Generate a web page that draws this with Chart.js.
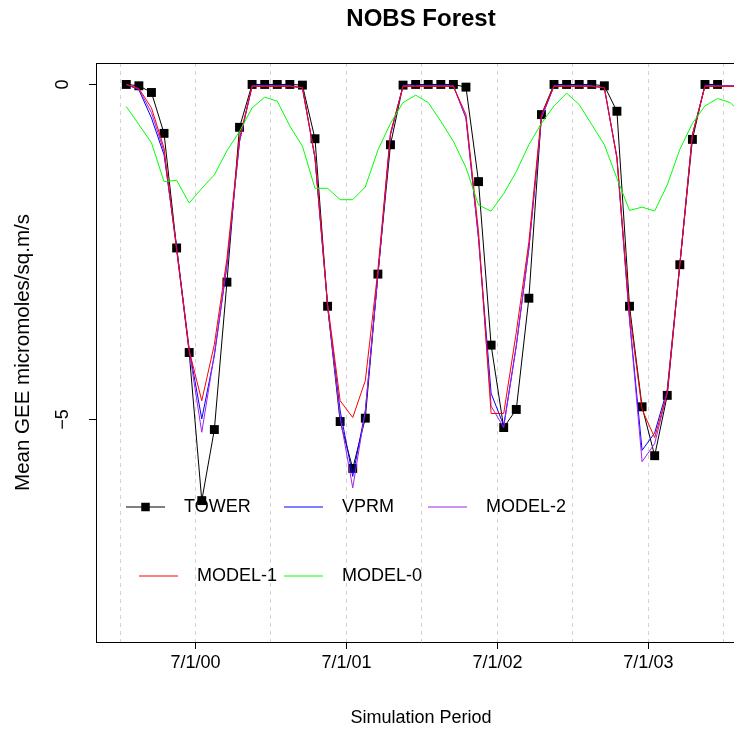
<!DOCTYPE html>
<html>
<head>
<meta charset="utf-8">
<title>NOBS Forest</title>
<script src="https://cdn.jsdelivr.net/npm/chart.js@4.4.1/dist/chart.umd.min.js"></script>
<style>
  html, body { margin: 0; padding: 0; background: #fff; overflow: hidden; }
  canvas { display: block; }
</style>
</head>
<body>
<canvas id="chart" width="760" height="732"></canvas>
<script>
// monthly mean GEE, one value per month (plotted mid-month)
const months = [
  '2000-01', '2000-02', '2000-03', '2000-04', '2000-05', '2000-06', '2000-07', '2000-08', '2000-09', '2000-10', '2000-11', '2000-12',
  '2001-01', '2001-02', '2001-03', '2001-04', '2001-05', '2001-06', '2001-07', '2001-08', '2001-09', '2001-10', '2001-11', '2001-12',
  '2002-01', '2002-02', '2002-03', '2002-04', '2002-05', '2002-06', '2002-07', '2002-08', '2002-09', '2002-10', '2002-11', '2002-12',
  '2003-01', '2003-02', '2003-03', '2003-04', '2003-05', '2003-06', '2003-07', '2003-08', '2003-09', '2003-10', '2003-11', '2003-12',
  '2004-01', '2004-02'
];

const tower = [
  0, -0.02, -0.12, -0.73, -2.44, -4.0, -6.21, -5.15, -2.95, -0.64, 0, 0,
  0, 0, -0.01, -0.81, -3.31, -5.03, -5.73, -4.98, -2.83, -0.9, -0.01, 0,
  0, 0, 0, -0.04, -1.45, -3.89, -5.12, -4.85, -3.19, -0.45, 0, 0,
  0, 0, -0.02, -0.4, -3.31, -4.81, -5.54, -4.64, -2.69, -0.82, 0, 0
];

const vprm = [
  0, -0.08, -0.5, -1.05, -2.42, -3.95, -4.99, -4.05, -2.7, -0.85, -0.02, -0.02,
  -0.02, -0.02, -0.05, -1.1, -3.3, -4.87, -5.85, -4.87, -2.85, -0.75, -0.02, -0.02,
  -0.02, -0.02, -0.02, -0.5, -2.3, -4.61, -5.09, -3.9, -2.45, -0.5, -0.02, -0.02,
  -0.02, -0.02, -0.05, -1.1, -3.5, -5.46, -5.2, -4.55, -2.69, -0.75, -0.02, -0.02,
  -0.02, -0.02
];

const model2 = [
  0, -0.07, -0.42, -1.0, -2.45, -3.97, -5.19, -4.02, -2.7, -0.85, -0.02, -0.02,
  -0.02, -0.02, -0.05, -1.1, -3.3, -4.97, -6.02, -4.87, -2.85, -0.75, -0.02, -0.02,
  -0.02, -0.02, -0.02, -0.5, -2.3, -4.8, -5.12, -3.9, -2.45, -0.5, -0.02, -0.02,
  -0.02, -0.02, -0.05, -1.1, -3.5, -5.63, -5.36, -4.6, -2.69, -0.75, -0.02, -0.02,
  -0.02, -0.02
];

const model1 = [
  0, -0.06, -0.35, -0.95, -2.47, -3.97, -4.72, -3.88, -2.6, -0.8, -0.03, -0.03,
  -0.03, -0.03, -0.05, -1.08, -3.27, -4.72, -4.97, -4.42, -2.77, -0.72, -0.03, -0.03,
  -0.03, -0.03, -0.03, -0.45, -2.2, -4.91, -4.91, -3.7, -2.35, -0.45, -0.03, -0.03,
  -0.03, -0.03, -0.05, -1.08, -3.4, -4.85, -5.27, -4.6, -2.69, -0.75, -0.03, -0.03,
  -0.03, -0.03
];

const model0 = [
  -0.33, -0.6, -0.87, -1.45, -1.43, -1.77, -1.55, -1.35, -0.99, -0.7, -0.35, -0.19,
  -0.25, -0.62, -0.92, -1.55, -1.55, -1.72, -1.72, -1.53, -0.98, -0.58, -0.27, -0.16,
  -0.27, -0.55, -0.85, -1.24, -1.8, -1.89, -1.63, -1.3, -0.9, -0.58, -0.32, -0.13,
  -0.3, -0.6, -0.9, -1.4, -1.88, -1.83, -1.89, -1.5, -0.97, -0.58, -0.32, -0.21,
  -0.27, -0.45
];

// axis text
const xTickLabels = ['7/1/00', '7/1/01', '7/1/02', '7/1/03'];
const gridDates = ['1/1/00', '7/1/00', '1/1/01', '7/1/01', '1/1/02', '7/1/02', '1/1/03', '7/1/03', '1/1/04'];
const yTicks = [0, -5];

const FONT = "'Liberation Sans', Arial, Helvetica, sans-serif";

// x is measured in months from 1 Jan 2000
function monthPos(m) {
  const [y, mo] = m.split('-').map(Number);
  return (y - 2000) * 12 + (mo - 1) + 0.5;
}

function datePos(d) {
  const [m, day, yy] = d.split('/').map(Number);
  return yy * 12 + (m - 1) + (day - 1) / 31;
}

function toPoints(values) {
  return values.map((v, i) => ({ x: monthPos(months[i]), y: v }));
}

const tickPos = {};
xTickLabels.forEach(l => { tickPos[datePos(l)] = l; });

function frameAndLegend() {
  return {
    id: 'frameAndLegend',
    afterDraw(chart, args, opts) {
      const ctx = chart.ctx;
      const a = chart.chartArea;
      const yScale = chart.scales.y;

      ctx.save();
      // box: top and right sides (left / bottom come from the axes)
      ctx.strokeStyle = '#000';
      ctx.lineWidth = 1;
      ctx.beginPath();
      ctx.moveTo(a.left, a.top + 0.5);
      ctx.lineTo(a.right, a.top + 0.5);
      ctx.lineTo(a.right, a.bottom);
      ctx.stroke();

      // y tick labels, parallel to the axis like R
      ctx.fillStyle = '#000';
      ctx.font = opts.fontSize + 'px ' + FONT;
      ctx.textAlign = 'center';
      ctx.textBaseline = 'middle';
      yTicks.forEach(v => {
        const py = yScale.getPixelForValue(v);
        const txt = v < 0 ? '\u2212' + Math.abs(v) : String(v);
        ctx.save();
        ctx.translate(a.left - opts.yLabelGap, py);
        ctx.rotate(-Math.PI / 2);
        ctx.fillText(txt, 0, 0);
        ctx.restore();
      });

      // legend, no box
      const sets = chart.data.datasets;
      opts.slots.forEach((slot, k) => {
        const ds = sets[k];
        const y = a.top + opts.rows[slot.row];
        const x0 = a.left + slot.x;
        ctx.strokeStyle = ds.borderColor;
        ctx.lineWidth = 1;
        ctx.beginPath();
        ctx.moveTo(x0, y);
        ctx.lineTo(x0 + opts.lineLen, y);
        ctx.stroke();
        if (ds.pointRadius > 0) {
          const s = opts.markSize;
          ctx.fillStyle = ds.pointBackgroundColor;
          ctx.fillRect(x0 + opts.lineLen / 2 - s / 2, y - s / 2, s, s);
        }
        ctx.fillStyle = '#000';
        ctx.textAlign = 'left';
        ctx.fillText(ds.label, x0 + opts.lineLen + opts.textGap, y);
      });
      ctx.restore();
    }
  };
}

const lineBase = {
  type: 'line',
  borderWidth: 1,
  pointRadius: 0,
  tension: 0,
  fill: false
};

new Chart(document.getElementById('chart'), {
  type: 'line',
  data: {
    datasets: [
      { ...lineBase, label: 'TOWER', data: toPoints(tower), borderColor: '#000000',
        pointRadius: 6.3, pointStyle: 'rect', pointBackgroundColor: '#000000', pointBorderWidth: 0, order: 5 },
      { ...lineBase, label: 'VPRM', data: toPoints(vprm), borderColor: '#0000ff', order: 4 },
      { ...lineBase, label: 'MODEL-2', data: toPoints(model2), borderColor: '#a020f0', order: 3 },
      { ...lineBase, label: 'MODEL-1', data: toPoints(model1), borderColor: '#ff0000', order: 2 },
      { ...lineBase, label: 'MODEL-0', data: toPoints(model0), borderColor: '#00ff00', order: 1 }
    ]
  },
  options: {
    responsive: false,
    animation: false,
    events: [],
    layout: { padding: { right: 14 } },
    scales: {
      x: {
        type: 'linear',
        min: -1.908,
        max: 49.76,
        afterBuildTicks: scale => {
          scale.ticks = gridDates.map(d => ({ value: datePos(d) }));
        },
        afterFit: scale => { scale.height = 90; },
        grid: {
          color: '#d3d3d3',
          lineWidth: 1,
          drawTicks: true,
          tickLength: 7,
          tickColor: c => (tickPos[c.tick && c.tick.value] ? '#000' : 'rgba(0,0,0,0)')
        },
        border: { display: true, color: '#000', width: 1, dash: [4, 4] },
        ticks: {
          autoSkip: false,
          maxRotation: 0,
          padding: 3,
          color: '#000',
          font: { family: FONT, size: 18 },
          callback: value => tickPos[value] || ''
        },
        title: {
          display: true,
          text: 'Simulation Period',
          color: '#000',
          font: { family: FONT, size: 18 },
          padding: { top: 0, bottom: 3 }
        }
      },
      y: {
        type: 'linear',
        min: -8.32,
        max: 0.32,
        afterBuildTicks: scale => {
          scale.ticks = yTicks.map(v => ({ value: v }));
        },
        afterFit: scale => { scale.width = 96; },
        grid: {
          drawOnChartArea: false,
          drawTicks: true,
          tickLength: 7,
          tickColor: '#000'
        },
        border: { display: true, color: '#000', width: 1 },
        ticks: { display: false },
        title: {
          display: true,
          text: 'Mean GEE micromoles/sq.m/s',
          color: '#000',
          font: { family: FONT, size: 20.5 },
          padding: { top: 10.7, bottom: 0 }
        }
      }
    },
    plugins: {
      legend: { display: false },
      tooltip: { enabled: false },
      title: {
        display: true,
        text: 'NOBS Forest',
        fullSize: false,
        color: '#000',
        font: { family: FONT, size: 24, weight: 'bold' },
        padding: { top: 4.6, bottom: 29.6 }
      },
      frameAndLegend: {
        fontSize: 18,
        yLabelGap: 33,
        rows: [444, 513],
        slots: [
          { row: 0, x: 30 },
          { row: 0, x: 188 },
          { row: 0, x: 332 },
          { row: 1, x: 43 },
          { row: 1, x: 188 }
        ],
        lineLen: 39,
        textGap: 19,
        markSize: 8.5
      }
    }
  },
  plugins: [frameAndLegend()]
});
</script>
</body>
</html>
